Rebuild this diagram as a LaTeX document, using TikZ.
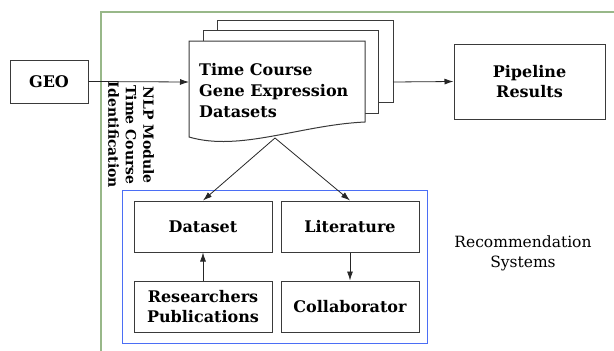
\documentclass[tikz,border=0pt]{standalone}
\usepackage{fontspec}
\setmainfont{DejaVu Serif}
\usetikzlibrary{arrows.meta}
\definecolor{framegreen}{HTML}{98B889}
\definecolor{recblue}{HTML}{4B6EF5}
\definecolor{edgegray}{HTML}{3A3A3A}
\tikzset{
  blk/.style={draw=edgegray, line width=1pt, fill=white, align=center, inner sep=0pt,
    font=\bfseries\fontsize{16}{19.5}\selectfont},
  lbl/.style={inner sep=0pt, font=\bfseries\fontsize{16}{21}\selectfont},
  flow/.style={draw=black!85, line width=0.8pt, -{Latex[length=9pt,width=6pt]}},
  sheet/.style={draw=edgegray, line width=1pt, fill=white}
}
\begin{document}
\begin{tikzpicture}[x=1pt,y=-1pt]
\useasboundingbox (0,0) rectangle (614,351);
% outer module frame, running off the page
\draw[framegreen, line width=1.2pt] (101,351) -- (101,12) -- (614,12);

% stacked dataset sheets
\draw[sheet] (217,20) rectangle (393,102);
\draw[sheet] (203,30) rectangle (378,113);
\draw[sheet] (189,41) -- (365,41) -- (365,122)
  .. controls (300,125) and (240,152) .. (189,137) -- cycle;
\node[lbl, align=left, anchor=west] (ds) at (199,91)
  {Time Course\\Gene Expression\\Datasets};
\coordinate (docL) at (189,82);
\coordinate (stackR) at (393,82);
\coordinate (docB) at (275,138);

\node[blk, minimum width=78pt, minimum height=43pt] (geo) at (49,81.5) {GEO};
\node[blk, minimum width=151pt, minimum height=75pt] (pipe) at (529.5,81.5) {Pipeline\\Results};

\node[lbl, align=center, rotate=-90, font=\bfseries\fontsize{14}{17.5}\selectfont]
  (nlp) at (131,135) {NLP Module\\Time Course\\Identification};

% recommendation block
\node[draw=recblue, line width=1pt, minimum width=305pt, minimum height=153pt, inner sep=0pt]
  (rec) at (274.5,266.5) {};
\node[blk, minimum width=138pt, minimum height=51pt] (dset) at (203,226.5) {Dataset};
\node[blk, minimum width=138pt, minimum height=51pt] (lit) at (350,226.5) {Literature};
\node[blk, minimum width=138pt, minimum height=51pt] (res) at (203,306.5) {Researchers\\Publications};
\node[blk, minimum width=138pt, minimum height=51pt] (col) at (350,306.5) {Collaborator};
\node[align=center, inner sep=0pt, font=\fontsize{15.5}{20}\selectfont] (recsys) at (523,253)
  {Recommendation\\Systems};

% connectors
\draw[flow] (geo.east) -- (docL);
\draw[flow] (stackR) -- (pipe.west);
\draw[flow] (docB) -- (dset.north);
\draw[flow] (docB) -- (lit.north);
\draw[flow] (res.north) -- (dset.south);
\draw[flow] (lit.south) -- (col.north);
\end{tikzpicture}
\end{document}
